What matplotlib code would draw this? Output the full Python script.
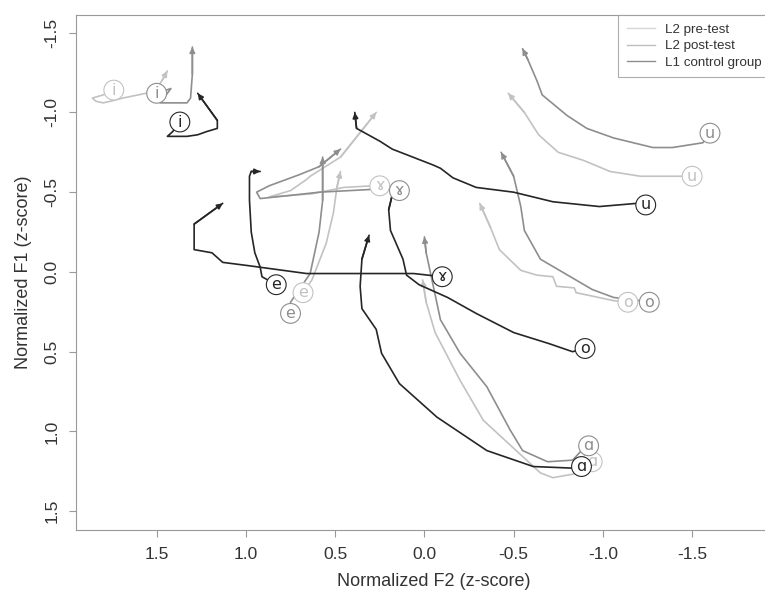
import matplotlib.pyplot as plt

# normalized F2 / F1 trajectories (z-score), first point = vowel onset
i_pre_f2 = [1.74, 1.80, 1.86, 1.84, 1.80, 1.76, 1.69, 1.56, 1.50, 1.47, 1.44]
i_pre_f1 = [-1.14, -1.11, -1.09, -1.07, -1.06, -1.07, -1.09, -1.12, -1.15, -1.20, -1.26]
i_post_f2 = [1.50, 1.42, 1.48, 1.40, 1.33, 1.31, 1.30, 1.30]
i_post_f1 = [-1.12, -1.15, -1.06, -1.06, -1.06, -1.09, -1.24, -1.41]
i_l1_f2 = [1.37, 1.41, 1.44, 1.33, 1.27, 1.22, 1.16, 1.16, 1.27]
i_l1_f1 = [-0.94, -0.88, -0.85, -0.85, -0.86, -0.88, -0.90, -0.95, -1.12]

e_pre_f2 = [0.68, 0.63, 0.55, 0.51, 0.49, 0.47]
e_pre_f1 = [0.13, 0.05, -0.18, -0.37, -0.53, -0.63]
e_post_f2 = [0.75, 0.75, 0.64, 0.59, 0.57, 0.57]
e_post_f1 = [0.26, 0.19, 0.01, -0.25, -0.45, -0.72]
e_l1_f2 = [0.83, 0.91, 0.92, 0.95, 0.97, 0.98, 0.98, 0.97, 0.92]
e_l1_f1 = [0.08, 0.03, -0.03, -0.12, -0.25, -0.45, -0.60, -0.63, -0.63]

gam_pre_f2 = [0.25, 0.29, 0.45, 0.63, 0.75, 0.87, 0.75, 0.66, 0.64, 0.47, 0.27]
gam_pre_f1 = [-0.54, -0.54, -0.53, -0.49, -0.48, -0.47, -0.51, -0.58, -0.60, -0.72, -1.00]
gam_post_f2 = [0.14, 0.25, 0.42, 0.59, 0.75, 0.92, 0.94, 0.87, 0.70, 0.59, 0.47]
gam_post_f1 = [-0.51, -0.52, -0.51, -0.50, -0.48, -0.46, -0.50, -0.54, -0.61, -0.66, -0.77]
gam_l1_f2 = [-0.10, 0.06, 0.43, 0.66, 0.99, 1.13, 1.19, 1.29, 1.29, 1.13]
gam_l1_f1 = [0.03, 0.01, 0.01, 0.01, -0.04, -0.06, -0.12, -0.14, -0.30, -0.43]

u_pre_f2 = [-1.50, -1.43, -1.21, -1.04, -0.89, -0.75, -0.64, -0.56, -0.47]
u_pre_f1 = [-0.60, -0.60, -0.60, -0.63, -0.70, -0.75, -0.86, -1.00, -1.12]
u_post_f2 = [-1.60, -1.56, -1.39, -1.28, -1.06, -0.91, -0.80, -0.66, -0.63, -0.58, -0.55]
u_post_f1 = [-0.87, -0.81, -0.78, -0.78, -0.84, -0.90, -0.98, -1.11, -1.20, -1.33, -1.40]
u_l1_f2 = [-1.24, -1.19, -0.98, -0.72, -0.50, -0.29, -0.16, -0.09, -0.05, 0.18, 0.25, 0.38, 0.39]
u_l1_f1 = [-0.42, -0.43, -0.41, -0.44, -0.50, -0.53, -0.59, -0.65, -0.67, -0.77, -0.82, -0.90, -1.00]

o_pre_f2 = [-1.14, -1.06, -0.85, -0.84, -0.74, -0.72, -0.63, -0.54, -0.42, -0.37, -0.31]
o_pre_f1 = [0.19, 0.18, 0.13, 0.10, 0.09, 0.03, 0.02, -0.01, -0.14, -0.28, -0.43]
o_post_f2 = [-1.26, -1.21, -1.06, -0.94, -0.65, -0.56, -0.54, -0.50, -0.43]
o_post_f1 = [0.19, 0.18, 0.16, 0.11, -0.08, -0.26, -0.41, -0.60, -0.75]
o_l1_f2 = [-0.90, -0.83, -0.70, -0.50, -0.29, -0.13, 0.03, 0.10, 0.12, 0.19, 0.20, 0.17]
o_l1_f1 = [0.48, 0.50, 0.45, 0.38, 0.26, 0.16, 0.08, 0.02, -0.08, -0.26, -0.39, -0.53]

a_pre_f2 = [-0.94, -0.87, -0.72, -0.65, -0.33, -0.20, -0.06, -0.01, 0.01]
a_pre_f1 = [1.19, 1.26, 1.29, 1.26, 0.93, 0.68, 0.38, 0.19, 0.05]
a_post_f2 = [-0.92, -0.88, -0.83, -0.69, -0.55, -0.48, -0.35, -0.20, -0.09, -0.05, -0.01, 0.00]
a_post_f1 = [1.09, 1.12, 1.18, 1.19, 1.12, 0.99, 0.72, 0.51, 0.30, 0.09, -0.12, -0.22]
a_l1_f2 = [-0.88, -0.83, -0.61, -0.35, -0.07, 0.14, 0.24, 0.27, 0.35, 0.36, 0.35, 0.31]
a_l1_f1 = [1.22, 1.23, 1.22, 1.12, 0.91, 0.70, 0.51, 0.36, 0.23, 0.09, -0.08, -0.23]

groups = ["L2 pre-test", "L2 post-test", "L1 control group"]
line_colors = ["#c2c2c2", "#8e8e8e", "#262626"]
legend_colors = ["#d6d6d6", "#bdbdbd", "#8f8f8f"]

trajectories = [
    ("i", 0, i_pre_f2, i_pre_f1), ("i", 1, i_post_f2, i_post_f1), ("i", 2, i_l1_f2, i_l1_f1),
    ("e", 0, e_pre_f2, e_pre_f1), ("e", 1, e_post_f2, e_post_f1), ("e", 2, e_l1_f2, e_l1_f1),
    ("ɤ", 0, gam_pre_f2, gam_pre_f1), ("ɤ", 1, gam_post_f2, gam_post_f1), ("ɤ", 2, gam_l1_f2, gam_l1_f1),
    ("u", 0, u_pre_f2, u_pre_f1), ("u", 1, u_post_f2, u_post_f1), ("u", 2, u_l1_f2, u_l1_f1),
    ("o", 0, o_pre_f2, o_pre_f1), ("o", 1, o_post_f2, o_post_f1), ("o", 2, o_l1_f2, o_l1_f1),
    ("ɑ", 0, a_pre_f2, a_pre_f1), ("ɑ", 1, a_post_f2, a_post_f1), ("ɑ", 2, a_l1_f2, a_l1_f1),
]

plt.rcParams['font.family'] = ['Liberation Sans', 'DejaVu Sans']

fig = plt.figure(figsize=(7.65, 5.97), dpi=100)
# box runs past the right edge of the figure
ax = fig.add_axes([0.0993, 0.1122, 0.935, 0.8627])

for vowel, g, f2, f1 in trajectories:
    col = line_colors[g]
    ax.plot(f2, f1, color=col, lw=1.2, solid_capstyle='round', zorder=2 + g)
    ax.annotate('', xy=(f2[-1], f1[-1]), xytext=(f2[-2], f1[-2]),
                arrowprops=dict(arrowstyle='-|>', color=col, lw=1.2,
                                mutation_scale=8, shrinkA=0, shrinkB=0),
                zorder=2 + g)
    ax.text(f2[0], f1[0], vowel, fontsize=11.5, color=col, ha='center', va='center',
            family=['DejaVu Sans'], zorder=6 + g,
            bbox=dict(boxstyle='circle,pad=0.15', fc='white', ec=col, lw=0.8))

ax.set_xlim(1.952, 1.952 - 0.935 * 765 / 178.5)
ax.set_ylim(1.618, -1.611)
ax.set_xticks([1.5, 1.0, 0.5, 0.0, -0.5, -1.0, -1.5])
ax.set_yticks([-1.5, -1.0, -0.5, 0.0, 0.5, 1.0, 1.5])
ax.set_xticklabels(["1.5", "1.0", "0.5", "0.0", "-0.5", "-1.0", "-1.5"])
ax.set_yticklabels(["-1.5", "-1.0", "-0.5", "0.0", "0.5", "1.0", "1.5"],
                   rotation=90, va='center')
ax.tick_params(direction='out', length=5, width=0.8, color='#999999',
               labelsize=12.5, labelcolor='#333333', pad=7)
for s in ax.spines.values():
    s.set_color('#999999')
    s.set_linewidth(0.8)

ax.set_xlabel("Normalized F2 (z-score)", fontsize=13, color='#333333', labelpad=8)
ax.set_ylabel("Normalized F1 (z-score)", fontsize=13, color='#333333', labelpad=9)

handles = [plt.Line2D([], [], color=c, lw=1.0) for c in legend_colors]
leg = fig.legend(handles, groups, loc='upper left', bbox_to_anchor=(618 / 765, 1 - 15 / 597),
                 borderaxespad=0, fontsize=9.6, frameon=True, fancybox=False,
                 handlelength=2.1, borderpad=0.65, labelspacing=0.3, handletextpad=0.8)
leg.get_frame().set_edgecolor('#999999')
leg.get_frame().set_linewidth(0.8)
for t in leg.get_texts():
    t.set_color('#333333')

fig.savefig("out.png", dpi=100)
